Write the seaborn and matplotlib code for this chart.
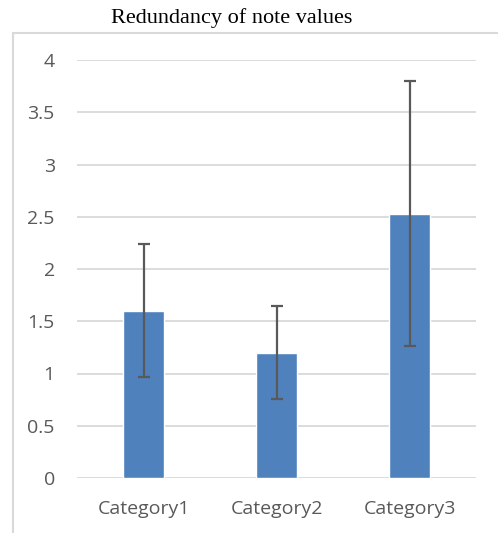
import matplotlib
matplotlib.use("Agg")
import matplotlib.pyplot as plt
import seaborn as sns
import pandas as pd
from matplotlib.patches import Rectangle

categories = ["Category1", "Category2", "Category3"]
values = [1.6, 1.2, 2.53]
errors = [0.635, 0.445, 1.27]
yticks = [0, 0.5, 1, 1.5, 2, 2.5, 3, 3.5, 4]
ytick_labels = ["0", "0.5", "1", "1.5", "2", "2.5", "3", "3.5", "4"]
title = "Redundancy of note values"

sns.set_style("white")
plt.rcParams['font.family'] = ['Open Sans', 'DejaVu Sans']

df = pd.DataFrame({"category": categories, "value": values})

fig = plt.figure(figsize=(4.98, 5.33), dpi=100)
ax = fig.add_axes([77/498, (533-478)/533, (476-77)/498, (478-60)/533])

sns.barplot(data=df, x="category", y="value", color="#4F81BD", saturation=1,
            width=0.31, errorbar=None, ax=ax, zorder=3)
ax.errorbar(x=range(len(categories)), y=values, yerr=errors, fmt="none",
            ecolor="#595959", elinewidth=1.6, capsize=4.3, capthick=1.6, zorder=4)

ax.set_ylim(0, 4)
ax.set_xlim(-0.5, 2.5)
ax.set_yticks(yticks)
ax.set_yticklabels(ytick_labels)
ax.yaxis.grid(True, color="#d9d9d9", linewidth=1.3, zorder=0)
ax.set_axisbelow(True)
for s in ax.spines.values():
    s.set_visible(False)
ax.tick_params(axis="both", length=0, labelsize=14, colors="#595959")
ax.tick_params(axis="x", pad=16)
ax.tick_params(axis="y", pad=16)
for lab in ax.get_yticklabels():
    lab.set_horizontalalignment("right")
ax.set_xlabel("")
ax.set_ylabel("")

# outer chart border (only left and top visible in the crop)
fig.patches.append(Rectangle((13/498, -0.1), 1.2, 1 - 33/533 + 0.1,
                             transform=fig.transFigure, fill=False,
                             edgecolor="#d9d9d9", linewidth=1.5, zorder=0))

fig.text(232/498, 1 - 18/533, title, ha="center", va="center",
         fontsize=16, family=["Liberation Serif", "DejaVu Serif"], color="#000000")

fig.savefig("out.png", dpi=100)
